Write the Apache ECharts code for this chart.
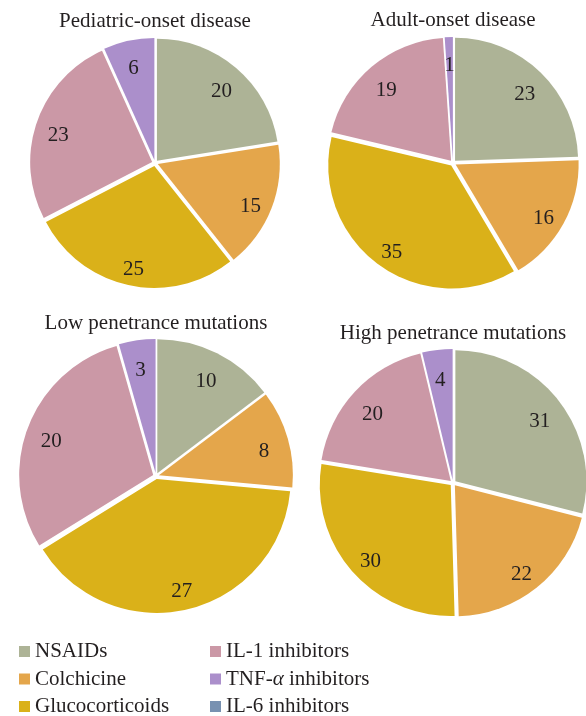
<!DOCTYPE html>
<html>
<head>
<meta charset="utf-8">
<script src="https://cdn.jsdelivr.net/npm/echarts@6/dist/echarts.min.js"></script>
<style>
html,body{margin:0;padding:0;background:#fff;}
#chart{width:586px;height:716px;}
</style>
</head>
<body>
<div id="chart"></div>
<script>
var categories = ['NSAIDs', 'Colchicine', 'Glucocorticoids', 'IL-1 inhibitors', 'TNF-\u03b1 inhibitors', 'IL-6 inhibitors'];
var colors = ['#adb396', '#e4a64b', '#dab119', '#cb98a6', '#ab8fcb', '#7891b1'];
var panelTitles = ['Pediatric-onset disease', 'Adult-onset disease', 'Low penetrance mutations', 'High penetrance mutations'];
var pediatricValues = [20, 15, 25, 23, 6, 0];
var adultValues = [23, 16, 35, 19, 1, 0];
var lowValues = [10, 8, 27, 20, 3, 0];
var highValues = [31, 22, 30, 20, 4, 0];

var panels = [
  {values: pediatricValues, center: [155, 163], r: 122, titleTop: 11},
  {values: adultValues, center: [453, 163], r: 123, titleTop: 10},
  {values: lowValues, center: [156, 476], r: 134, titleTop: 313},
  {values: highValues, center: [453, 483], r: 131, titleTop: 323}
];
var FONT = '"Liberation Serif", "Times New Roman", serif';
var TXT = '#231f20';
var FS = 21;

var series = [];
var titles = [];
panels.forEach(function (p, i) {
  var data = categories.map(function (c, k) {
    return {name: c, value: p.values[k], selected: true, itemStyle: {color: colors[k]}};
  });
  series.push({
    type: 'pie', center: p.center, radius: [0, p.r], startAngle: 90, clockwise: true,
    selectedMode: 'multiple', selectedOffset: 3, silent: true, avoidLabelOverlap: false,
    label: {show: false}, labelLine: {show: false},
    itemStyle: {borderWidth: 0},
    select: {itemStyle: {borderWidth: 0}},
    emphasis: {disabled: true},
    data: data
  });
  var ringData = categories.map(function (c, k) {
    return {name: c, value: p.values[k]};
  });
  series.push({
    type: 'pie', center: p.center, radius: [p.r * 0.63, p.r], startAngle: 90, clockwise: true,
    silent: true, avoidLabelOverlap: false,
    itemStyle: {color: 'rgba(0,0,0,0)', borderWidth: 0},
    emphasis: {disabled: true},
    label: {show: true, position: 'inside', fontFamily: FONT, fontSize: FS, color: TXT,
      formatter: function (q) { return q.value ? '{v|' + q.value + '}' : ''; },
      rich: {v: {fontFamily: FONT, fontSize: FS, color: TXT, padding: [12, 0, 0, 0]}}},
    labelLine: {show: false},
    data: ringData
  });
  titles.push({
    text: panelTitles[i], left: p.center[0], top: p.titleTop, textAlign: 'center', padding: 0,
    textStyle: {fontFamily: FONT, fontSize: FS, fontWeight: 'normal', color: TXT}
  });
});

var legendBase = {
  orient: 'vertical', top: 641, height: 120, itemWidth: 11, itemHeight: 11, itemGap: 6.5, icon: 'rect',
  selectedMode: false, padding: 0,
  formatter: function (name) { return name.replace('\u03b1', '{i|\u03b1}'); },
  textStyle: {fontFamily: FONT, fontSize: FS, color: TXT, lineHeight: 20,
    rich: {i: {fontFamily: FONT, fontSize: FS, fontStyle: 'italic', color: TXT, lineHeight: 20}}}
};
var legends = [
  Object.assign({}, legendBase, {left: 19, data: categories.slice(0, 3)}),
  Object.assign({}, legendBase, {left: 210, data: categories.slice(3, 6)})
];

var chart = echarts.init(document.getElementById('chart'), null, {renderer: 'canvas'});
chart.setOption({
  animation: false,
  backgroundColor: '#ffffff',
  color: colors,
  title: titles,
  legend: legends,
  series: series
});
</script>
</body>
</html>
